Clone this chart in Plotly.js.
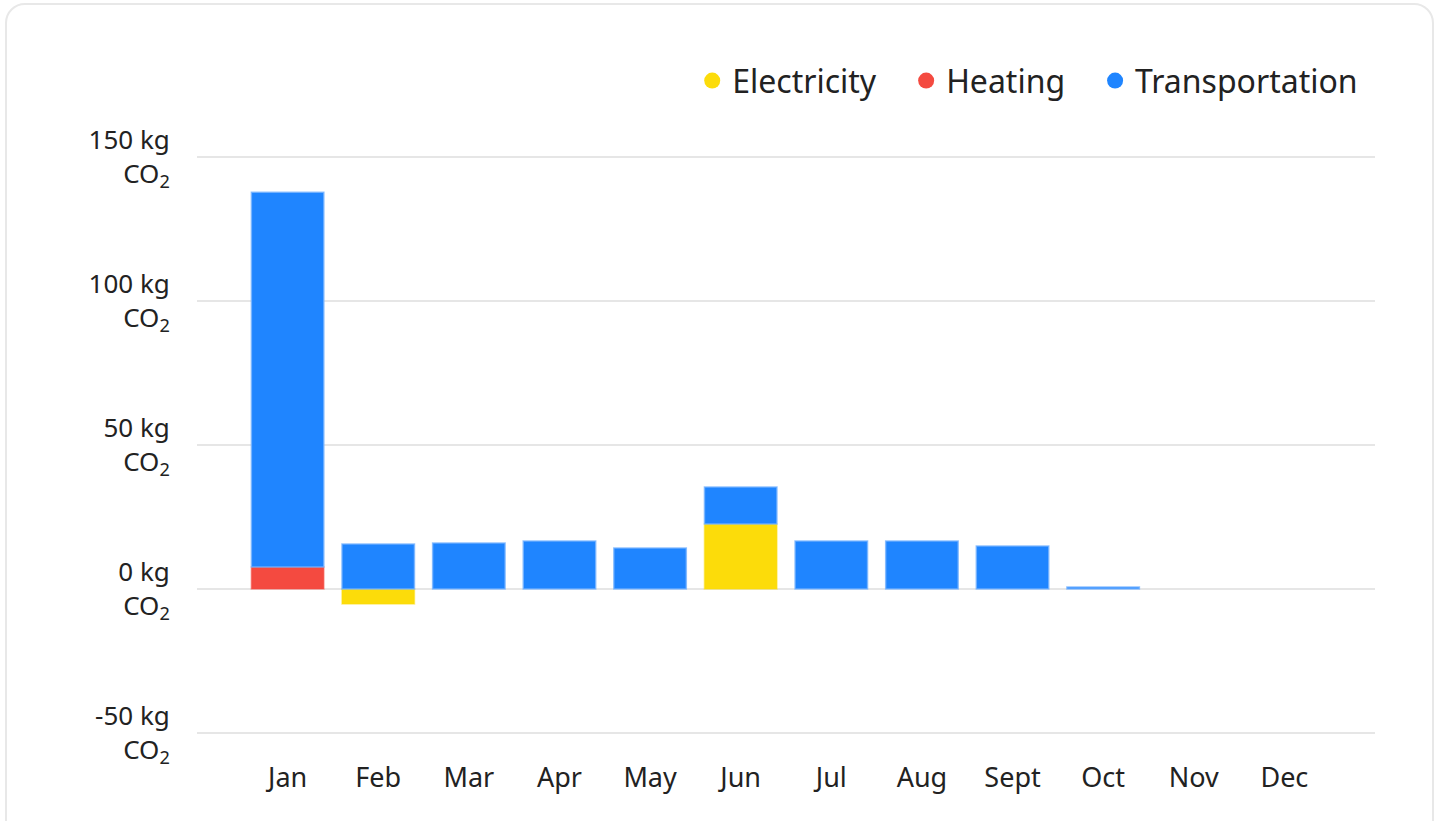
<!DOCTYPE html>
<html>
<head>
<meta charset="utf-8">
<script src="https://cdn.plot.ly/plotly-3.0.1.min.js"></script>
<style>
  html, body { margin: 0; padding: 0; background: #fff; width: 1441px; height: 821px; overflow: hidden; }
  #card { position: absolute; left: 5px; top: 3px; width: 1429px; height: 860px; border: 2px solid #e8e8e8; border-radius: 20px; box-sizing: border-box; }
  #chart { position: absolute; left: 0; top: 0; width: 1441px; height: 821px; }
</style>
</head>
<body>
<div id="card"></div>
<div id="chart"></div>
<script>
const months = ["Jan", "Feb", "Mar", "Apr", "May", "Jun", "Jul", "Aug", "Sept", "Oct", "Nov", "Dec"];
const electricity = [0, -5.2, 0, 0, 0, 22.6, 0, 0, 0, 0, 0, 0];
const heating = [7.6, 0, 0, 0, 0, 0, 0, 0, 0, 0, 0, 0];
const transportation = [130.2, 15.6, 16.0, 16.7, 14.2, 12.8, 16.7, 16.7, 14.9, 0.7, 0, 0];
const tickValues = [-50, 0, 50, 100, 150];
const tickLabels = ["-50 kg<br>CO<sub>2</sub>", "0 kg<br>CO<sub>2</sub>", "50 kg<br>CO<sub>2</sub>", "100 kg<br>CO<sub>2</sub>", "150 kg<br>CO<sub>2</sub>"];

const series = [
  {name: "Electricity", values: electricity, color: "#fcdc0a", line: "rgba(252,220,10,0.5)"},
  {name: "Heating", values: heating, color: "#f44a40", line: "rgba(244,74,64,0.5)"},
  {name: "Transportation", values: transportation, color: "#1f85ff", line: "rgba(120,180,255,0.8)"}
];

const traces = [];
series.forEach(s => {
  traces.push({
    type: "bar", x: months, y: s.values, name: s.name, legendgroup: s.name,
    showlegend: false,
    marker: {color: s.color, line: {color: s.line, width: s.values.map(v => v === 0 ? 0 : 1.5)}},
    hoverinfo: "x+y+name"
  });
});
const pad = "\u00a0\u00a0\u00a0";
series.forEach((s, i) => {
  traces.push({
    type: "scatter", mode: "markers", x: [months[0]], y: [null],
    name: i < series.length - 1 ? s.name + pad : s.name, legendgroup: s.name,
    marker: {color: s.color, size: 19, symbol: "circle"}, hoverinfo: "skip"
  });
});

const fam = "'Segoe UI', 'Noto Sans', 'Open Sans', sans-serif";
const font = {family: fam, color: "#222", size: 27};

const layout = {
  width: 1441, height: 821,
  paper_bgcolor: "rgba(0,0,0,0)", plot_bgcolor: "rgba(0,0,0,0)",
  margin: {l: 197, r: 66, t: 155, b: 86, pad: 0},
  barmode: "relative", bargap: 0.2,
  font: font,
  showlegend: true,
  legend: {orientation: "h", x: 0.99, xanchor: "right", y: 1.128, yanchor: "middle",
           font: {family: fam, size: 32, color: "#222"}, itemsizing: "trace", itemwidth: 30, tracegroupgap: 0},
  xaxis: {
    type: "category", categoryorder: "array", categoryarray: months,
    range: [-1, 12], showgrid: false, zeroline: false, showline: false,
    ticks: "outside", ticklen: 19, tickcolor: "rgba(0,0,0,0)",
    tickfont: {family: fam, size: 27, color: "#222"}, fixedrange: true
  },
  yaxis: {
    range: [-50.7, 150.7], tickmode: "array", tickvals: tickValues, ticktext: tickLabels,
    showgrid: true, gridcolor: "#e6e6e6", gridwidth: 2,
    zeroline: true, zerolinecolor: "#e6e6e6", zerolinewidth: 2, showline: false,
    ticks: "outside", ticklen: 21, tickcolor: "rgba(0,0,0,0)",
    tickfont: {family: fam, size: 26, color: "#222"}, fixedrange: true
  }
};

Plotly.newPlot("chart", traces, layout, {displayModeBar: false});
</script>
</body>
</html>
